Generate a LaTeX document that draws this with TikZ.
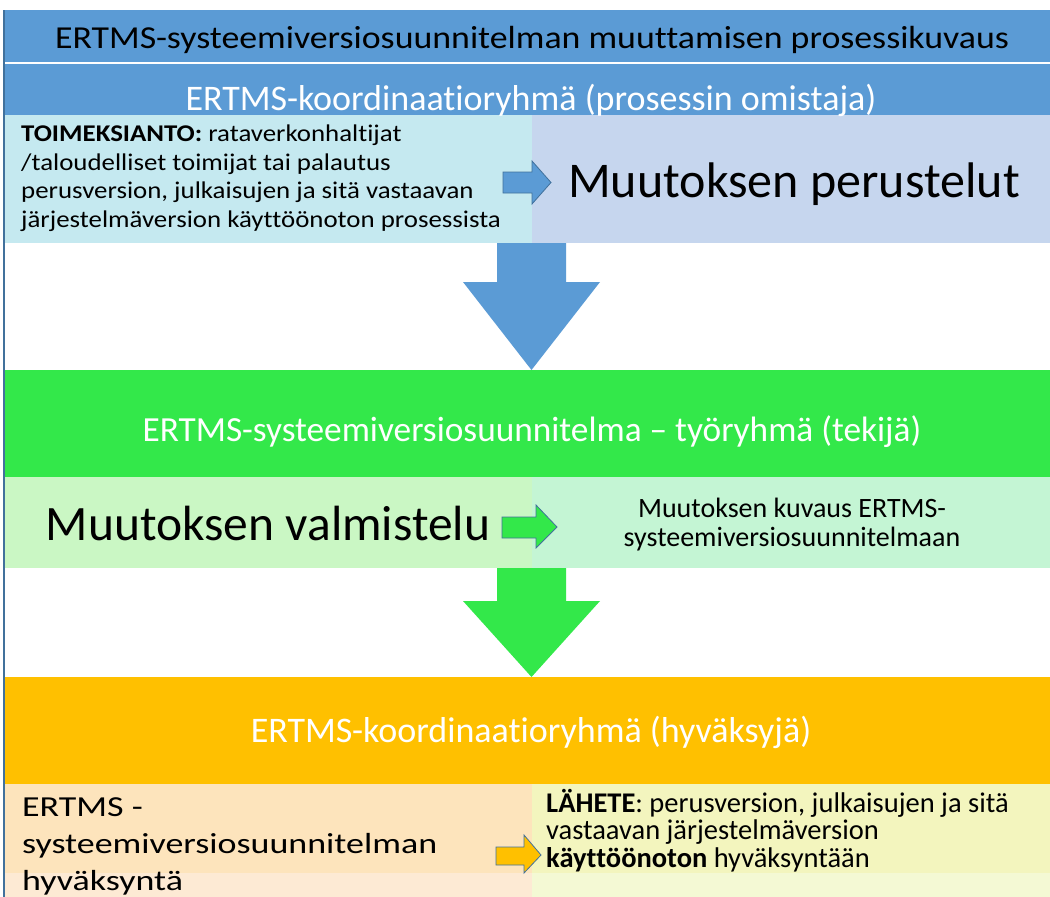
\documentclass[tikz,border=0pt]{standalone}
\usepackage{fontspec}
\setmainfont{Carlito}[Ligatures=NoCommon]
\newfontfamily\widefont{Carlito}[FakeStretch=1.12,Ligatures=NoCommon]
\newfontfamily\widerfont{Carlito}[FakeStretch=1.24,Ligatures=NoCommon]
\usetikzlibrary{positioning,calc}
\definecolor{officeBlue}{RGB}{91,155,213}
\definecolor{edgeBlue}{RGB}{65,113,156}
\definecolor{lightCyan}{RGB}{197,233,240}
\definecolor{paleBlue}{RGB}{198,214,238}
\definecolor{brightGreen}{RGB}{51,232,74}
\definecolor{paleGreen}{RGB}{202,247,196}
\definecolor{mintGreen}{RGB}{196,245,212}
\definecolor{amber}{RGB}{255,192,0}
\definecolor{peach}{RGB}{253,228,188}
\definecolor{peachLight}{RGB}{253,234,212}
\definecolor{paleYellow}{RGB}{243,245,190}
\definecolor{paleYellowLight}{RGB}{244,249,212}
\begin{document}
\begin{tikzpicture}[x=1pt,y=-1pt,
    cell/.style={anchor=north west,inner sep=0pt,outer sep=0pt,minimum width=#1},
    cell/.default=1045pt,
    bandtext/.style={font=\fontsize{36}{40}\selectfont,text=white,inner sep=0pt,anchor=base},
    boxtext/.style={align=left,anchor=base west,inner sep=0pt},
    bigtext/.style={font=\fontsize{50}{58}\selectfont,inner sep=0pt,anchor=base},
    sidearrow/.style={draw=edgeBlue,line width=0.8pt}
  ]
  \useasboundingbox (0,0) rectangle (1050,897);
  \fill[white] (0,0) rectangle (1050,897);

  % bands
  \node[cell,fill=officeBlue,minimum height=52pt] (titleband) at (5,10) {};
  \node[cell,fill=officeBlue,minimum height=51pt] (ownerband) at (5,64) {};
  \node[cell,fill=brightGreen,minimum height=107pt] (makerband) at (5,370) {};
  \node[cell,fill=amber,minimum height=107pt] (approverband) at (5,677) {};

  % row boxes
  \node[cell=527pt,fill=lightCyan,minimum height=128pt] (mandate) at (5,115) {};
  \node[cell=518pt,fill=paleBlue,minimum height=128pt] (reasons) at (532,115) {};
  \node[cell=527pt,fill=paleGreen,minimum height=91pt] (prep) at (5,477) {};
  \node[cell=518pt,fill=mintGreen,minimum height=91pt] (descr) at (532,477) {};
  \node[cell=527pt,fill=peach,minimum height=89pt] (approval) at (5,784) {};
  \node[cell=527pt,fill=peachLight,minimum height=24pt] (approvallow) at (5,873) {};
  \node[cell=518pt,fill=paleYellow,minimum height=89pt] (referral) at (532,784) {};
  \node[cell=518pt,fill=paleYellowLight,minimum height=24pt] (referrallow) at (532,873) {};

  % frame line
  \draw[edgeBlue,line width=1.2pt] (4,10) -- (4,897);

  % texts (multi-line nodes sit on their last baseline)
  \node[bandtext,text=black,font=\widefont\fontsize{32}{36}\selectfont] (titletext) at (532,48) {ERTMS-systeemiversiosuunnitelman muuttamisen prosessikuvaus};
  \node[bandtext] (ownertext) at (531,110) {ERTMS-koordinaatioryhmä (prosessin omistaja)};
  \node[bandtext,font=\fontsize{35.3}{40}\selectfont] (makertext) at (532,441) {ERTMS-systeemiversiosuunnitelma – työryhmä (tekijä)};
  \node[bandtext] (approvertext) at (531,742) {ERTMS-koordinaatioryhmä (hyväksyjä)};

  \node[boxtext,font=\widefont\fontsize{24}{28.4}\selectfont] (mandatetext) at (21,227) {\textbf{TOIMEKSIANTO:} rataverkonhaltijat\\/taloudelliset toimijat tai palautus\\perusversion, julkaisujen ja sitä vastaavan\\järjestelmäversion käyttöönoton prosessista};
  \node[bigtext] (reasonstext) at (794,197) {Muutoksen perustelut};
  \node[bigtext,font=\fontsize{49.5}{58}\selectfont] (preptext) at (268,540) {Muutoksen valmistelu};
  \node[font=\fontsize{28}{29}\selectfont,align=center,inner sep=0pt,anchor=base] (descrtext) at (792,546) {Muutoksen kuvaus ERTMS-\\systeemiversiosuunnitelmaan};
  \node[boxtext,font=\widerfont\fontsize{29}{37}\selectfont] (approvaltext) at (22,890) {ERTMS -\\systeemiversiosuunnitelman\\hyväksyntä};
  \node[boxtext,font=\fontsize{28.5}{27.5}\selectfont] (referraltext) at (546,867) {\textbf{LÄHETE}: perusversion, julkaisujen ja sitä\\vastaavan järjestelmäversion\\\textbf{käyttöönoton} hyväksyntään};

  % big down arrows
  \fill[officeBlue] (497,243) -- (566,243) -- (566,282) -- (600,282) -- (531.5,370)
    -- (463,282) -- (497,282) -- cycle;
  \fill[brightGreen] (497,568) -- (566,568) -- (566,601) -- (600,601) -- (531.5,677)
    -- (463,601) -- (497,601) -- cycle;

  % small side arrows
  \filldraw[sidearrow,fill=officeBlue] (503,172) -- (532,172) -- (532,161) -- (551,182.5)
    -- (532,204) -- (532,193) -- (503,193) -- cycle;
  \filldraw[sidearrow,fill=brightGreen] (502,517) -- (536,517) -- (536,505) -- (557,527)
    -- (536,548) -- (536,538) -- (502,538) -- cycle;
  \filldraw[sidearrow,fill=amber] (496,847) -- (524,847) -- (524,835) -- (541,855)
    -- (524,873) -- (524,865) -- (496,865) -- cycle;
\end{tikzpicture}
\end{document}
